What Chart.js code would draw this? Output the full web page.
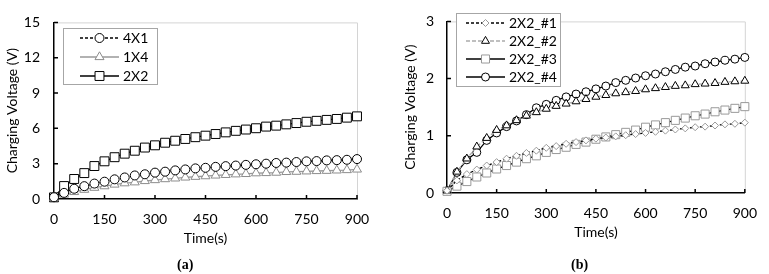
<!DOCTYPE html>
<html>
<head>
<meta charset="utf-8">
<script src="https://cdn.jsdelivr.net/npm/chart.js@4"></script>
<style>
    body { margin: 0; background: #fff; }
    #wrap { position: relative; width: 769px; height: 274px; }
    canvas { position: absolute; top: 0; }
    #chartA { left: 0; }
    #chartB { left: 385px; }
    .cap { position: absolute; top: 257px; font: bold 14px "Liberation Serif", serif; line-height: 16px; }
</style>
</head>
<body>
<div id="wrap">
    <canvas id="chartA" width="385" height="274"></canvas>
    <canvas id="chartB" width="384" height="274"></canvas>
    <div class="cap" style="left:177px">(a)</div>
    <div class="cap" style="left:571px">(b)</div>
</div>
<script>
// =========================
// DATA
// =========================
const times = [0, 30, 60, 90, 120, 150, 180, 210, 240, 270, 300, 330, 360, 390, 420, 450,
               480, 510, 540, 570, 600, 630, 660, 690, 720, 750, 780, 810, 840, 870, 900];

// chart (a)
const labelsA = ['4X1', '1X4', '2X2'];
const volt4x1 = [0.15, 0.52, 0.87, 1.09, 1.31, 1.47, 1.67, 1.83, 2.0, 2.1, 2.24, 2.32, 2.43, 2.51, 2.6, 2.65,
                 2.73, 2.79, 2.84, 2.9, 2.95, 3.0, 3.06, 3.09, 3.14, 3.2, 3.22, 3.28, 3.3, 3.33, 3.39];
const volt1x4 = [0.1, 0.38, 0.6, 0.79, 0.96, 1.09, 1.23, 1.34, 1.42, 1.53, 1.61, 1.69, 1.75, 1.83, 1.89, 1.94,
                 2.0, 2.05, 2.1, 2.13, 2.19, 2.21, 2.24, 2.3, 2.32, 2.35, 2.38, 2.4, 2.43, 2.46, 2.51];
const volt2x2 = [0.14, 1.1, 1.7, 2.2, 2.8, 3.2, 3.55, 3.85, 4.1, 4.37, 4.56, 4.78, 4.95, 5.1, 5.25, 5.38,
                 5.52, 5.66, 5.79, 5.9, 6.01, 6.15, 6.23, 6.34, 6.45, 6.56, 6.64, 6.72, 6.8, 6.91, 7.02];

// chart (b)
const labelsB = ['2X2_#1', '2X2_#2', '2X2_#3', '2X2_#4'];
const volt2x2n1 = [0.04, 0.22, 0.33, 0.41, 0.48, 0.54, 0.6, 0.65, 0.7, 0.74, 0.79, 0.82, 0.86, 0.89, 0.92, 0.95,
                   0.97, 0.99, 1.01, 1.03, 1.05, 1.07, 1.09, 1.11, 1.13, 1.15, 1.16, 1.18, 1.2, 1.21, 1.23];
const volt2x2n2 = [0.04, 0.37, 0.6, 0.81, 0.96, 1.1, 1.18, 1.27, 1.35, 1.41, 1.47, 1.52, 1.56, 1.6, 1.64, 1.68,
                   1.71, 1.74, 1.76, 1.78, 1.81, 1.83, 1.85, 1.87, 1.88, 1.9, 1.91, 1.92, 1.94, 1.95, 1.96];
const volt2x2n3 = [0.03, 0.12, 0.2, 0.28, 0.35, 0.42, 0.48, 0.54, 0.6, 0.65, 0.71, 0.76, 0.8, 0.85, 0.89, 0.94,
                   0.98, 1.02, 1.06, 1.1, 1.15, 1.19, 1.23, 1.27, 1.31, 1.35, 1.38, 1.42, 1.45, 1.48, 1.51];
const volt2x2n4 = [0.04, 0.36, 0.58, 0.71, 0.92, 1.05, 1.16, 1.26, 1.37, 1.49, 1.55, 1.62, 1.68, 1.73, 1.77, 1.82,
                   1.87, 1.93, 1.97, 2.01, 2.05, 2.08, 2.12, 2.16, 2.2, 2.22, 2.26, 2.29, 2.32, 2.34, 2.37];

const xTitle = 'Time(s)';
const yTitle = 'Charging Voltage (V)';

function pts(values) {
    return values.map(function (v, i) { return { x: times[i], y: v }; });
}

Chart.defaults.font.family = 'Lato';
Chart.defaults.font.size = 14;
Chart.defaults.color = '#000';

// marker outline, same shapes as chart.js point styles
function drawMarkerPath(ctx, style, r, x, y) {
    if (style === 'circle') {
        ctx.arc(x, y, r, 0, Math.PI * 2);
    } else if (style === 'rect') {
        const s = Math.SQRT1_2 * r;
        ctx.rect(x - s, y - s, 2 * s, 2 * s);
    } else if (style === 'rectRot') {
        ctx.moveTo(x - r, y); ctx.lineTo(x, y - r); ctx.lineTo(x + r, y); ctx.lineTo(x, y + r); ctx.closePath();
    } else if (style === 'triangle') {
        ctx.moveTo(x, y - r);
        ctx.lineTo(x + r * Math.sin(2 * Math.PI / 3), y - r * Math.cos(2 * Math.PI / 3));
        ctx.lineTo(x + r * Math.sin(4 * Math.PI / 3), y - r * Math.cos(4 * Math.PI / 3));
        ctx.closePath();
    }
}

// =========================
// PLUGIN: inward ticks, grey frame, legend box
// =========================
const decor = {
    id: 'decor',
    beforeDatasetsDraw(chart) {
        const a = chart.chartArea, ctx = chart.ctx;
        ctx.save();
        ctx.strokeStyle = '#d4d4d4';
        ctx.lineWidth = 1;
        ctx.beginPath();
        ctx.moveTo(a.left, a.top + 0.5);
        ctx.lineTo(a.right + 0.5, a.top + 0.5);
        ctx.lineTo(a.right + 0.5, a.bottom);
        ctx.stroke();

        ctx.strokeStyle = '#000';
        ctx.lineWidth = 1.5;
        const xs = chart.scales.x, ys = chart.scales.y;
        ctx.beginPath();
        xs.ticks.forEach(function (t) {
            const px = xs.getPixelForValue(t.value);
            ctx.moveTo(px, a.bottom);
            ctx.lineTo(px, a.bottom - 4);
        });
        ys.ticks.forEach(function (t) {
            const py = ys.getPixelForValue(t.value);
            ctx.moveTo(a.left, py);
            ctx.lineTo(a.left + 4, py);
        });
        ctx.stroke();
        ctx.restore();
    },
    afterDraw(chart, args, opts) {
        const ctx = chart.ctx;
        ctx.save();
        ctx.fillStyle = '#fff';
        ctx.strokeStyle = '#a6a6a6';
        ctx.lineWidth = 1;
        ctx.fillRect(opts.x, opts.y, opts.w, opts.h);
        ctx.strokeRect(opts.x + 0.5, opts.y + 0.5, opts.w, opts.h);

        chart.data.datasets.forEach(function (ds, i) {
            const cy = opts.y + opts.first + i * opts.row;
            const x0 = opts.x + opts.lineX, x1 = x0 + opts.lineLen;
            ctx.strokeStyle = ds.borderColor;
            ctx.lineWidth = ds.borderWidth;
            ctx.setLineDash(ds.borderDash || []);
            ctx.beginPath();
            ctx.moveTo(x0, cy);
            ctx.lineTo(x1, cy);
            ctx.stroke();
            ctx.setLineDash([]);

            ctx.fillStyle = '#fff';
            ctx.strokeStyle = ds.pointBorderColor;
            ctx.lineWidth = ds.pointBorderWidth;
            ctx.beginPath();
            drawMarkerPath(ctx, ds.pointStyle, ds.pointRadius, (x0 + x1) / 2, cy);
            ctx.fill();
            ctx.stroke();

            ctx.fillStyle = '#000';
            ctx.font = '14px Lato';
            ctx.textBaseline = 'middle';
            ctx.fillText(ds.label, opts.x + opts.textX, cy);
        });
        ctx.restore();
    }
};

function series(label, values, line, dash, style, radius, mark) {
    return {
        label: label,
        data: pts(values),
        borderColor: line,
        borderWidth: 1.3,
        borderDash: dash,
        pointStyle: style,
        pointRadius: radius,
        pointBorderColor: mark,
        pointBackgroundColor: '#fff',
        pointBorderWidth: 1,
        clip: false,
        tension: 0
    };
}

function makeOptions(yMax, yStep, pad, yWidth, yLabelPad, legend) {
    return {
        responsive: false,
        animation: false,
        events: [],
        layout: { padding: pad },
        scales: {
            x: {
                type: 'linear', min: 0, max: 900,
                grid: { display: false, drawTicks: false },
                border: { color: '#000', width: 1.5 },
                ticks: { stepSize: 150, padding: 12 },
                title: { display: true, text: xTitle, padding: 0 },
                afterFit: function (s) { s.height = 48; }
            },
            y: {
                min: 0, max: yMax,
                grid: { display: false, drawTicks: false },
                border: { color: '#000', width: 1.5 },
                ticks: { stepSize: yStep, padding: yLabelPad },
                title: { display: true, text: yTitle, padding: 0 },
                afterFit: function (s) { s.width = yWidth; }
            }
        },
        plugins: {
            legend: { display: false },
            tooltip: { enabled: false },
            decor: legend
        }
    };
}

// =========================
// CHART (a)
// =========================
new Chart(document.getElementById('chartA'), {
    type: 'line',
    data: {
        datasets: [
            series(labelsA[0], volt4x1, '#000', [3, 2], 'circle', 4.5, '#000'),
            series(labelsA[1], volt1x4, '#999', [], 'triangle', 5.2, '#8c8c8c'),
            series(labelsA[2], volt2x2, '#000', [], 'rect', 6.3, '#000')
        ]
    },
    options: makeOptions(15, 3, { left: 4, top: 16, right: 28, bottom: 27 }, 50, 14,
        { x: 63, y: 28, w: 94, h: 56, first: 10, row: 19, lineX: 17, lineLen: 39, textX: 60 }),
    plugins: [decor]
});

// =========================
// CHART (b)
// =========================
new Chart(document.getElementById('chartB'), {
    type: 'line',
    data: {
        datasets: [
            series(labelsB[0], volt2x2n1, '#000', [3, 2], 'rectRot', 3.5, '#999'),
            series(labelsB[1], volt2x2n2, '#aaa', [4, 2], 'triangle', 4.6, '#000'),
            series(labelsB[2], volt2x2n3, '#000', [], 'rect', 5.7, '#999'),
            series(labelsB[3], volt2x2n4, '#000', [], 'circle', 4, '#000')
        ]
    },
    options: makeOptions(3, 1, { left: 17, top: 10, right: 15, bottom: 33 }, 45, 13,
        { x: 71, y: 13, w: 104, h: 73, first: 10, row: 18, lineX: 10, lineLen: 39, textX: 53 }),
    plugins: [decor]
});
</script>
</body>
</html>
